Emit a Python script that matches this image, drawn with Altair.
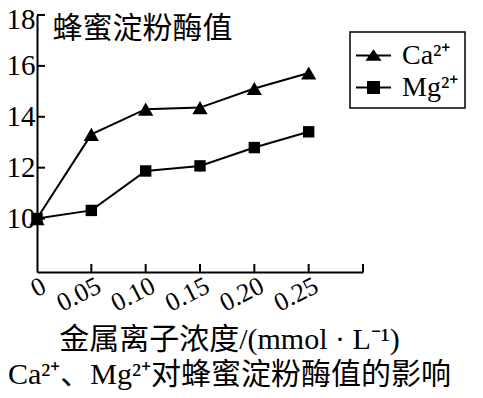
import altair as alt
import pandas as pd

# ---- data ----
conc = [0, 0.05, 0.10, 0.15, 0.20, 0.25]
ca_values = [10.0, 13.31, 14.30, 14.36, 15.11, 15.72]
mg_values = [10.0, 10.32, 11.87, 12.07, 12.79, 13.41]
series_names = ["Ca²⁺", "Mg²⁺"]
y_tick_values = [10, 12, 14, 16, 18]
x_tick_values = [0, 0.05, 0.10, 0.15, 0.20, 0.25]
x_tick_marks = [0.05, 0.10, 0.15, 0.20, 0.25, 0.30]

y_title = "蜂蜜淀粉酶值"
x_title = ["金属离子浓度/(mmol · L⁻¹)", "Ca²⁺、Mg²⁺对蜂蜜淀粉酶值的影响"]

df = pd.DataFrame({
    "conc": conc + conc,
    "value": ca_values + mg_values,
    "series": [series_names[0]] * len(conc) + [series_names[1]] * len(conc),
})
ytick_df = pd.DataFrame({"yt": y_tick_values})
xtick_df = pd.DataFrame({"xt": x_tick_marks})

SERIF = "Liberation Serif"
MIXED = "Liberation Serif, Noto Sans CJK SC"
CJK = "Noto Sans CJK SC"

W, H = 326, 257
xs = alt.Scale(domain=[0, 0.30], nice=False, zero=False)
ys = alt.Scale(domain=[7.9, 18], nice=False, zero=False)

x_axis = alt.Axis(
    values=x_tick_values,
    labelExpr="datum.value === 0 ? '0' : format(datum.value, '.2f')",
    ticks=False, grid=False,
    domainColor="black", domainWidth=2,
    labelFont=SERIF, labelFontSize=26, labelColor="black",
    labelAngle=333, labelAlign="center", labelBaseline="middle",
    labelOffset={"condition": {"test": "datum.value === 0", "value": 1}, "value": -13},
    labelPadding={"condition": {"test": "datum.value === 0", "value": 15}, "value": 22},
    title=x_title, titleFont=MIXED, titleFontSize=30, titleFontWeight="normal",
    titleColor="black", titleAlign="center", titleBaseline="alphabetic",
    titleX=192, titleY=76, titleLineHeight=35, titleAngle=0,
)
y_axis = alt.Axis(
    values=y_tick_values, ticks=False, grid=False,
    domainColor="black", domainWidth=2,
    labelFont=SERIF, labelFontSize=29, labelColor="black", labelPadding=2,
    labelOffset={"condition": {"test": "datum.value === 18", "value": 4}, "value": 0},
    title=y_title, titleFont=CJK, titleFontSize=30, titleFontWeight="normal",
    titleColor="black", titleAngle=0, titleAlign="left", titleBaseline="alphabetic",
    titleX=15, titleY=22,
)

X = lambda f: alt.X(f, scale=xs, axis=x_axis)
Y = lambda f: alt.Y(f, scale=ys, axis=y_axis)

lines = alt.Chart(df).mark_line(color="black", strokeWidth=2).encode(
    x=X("conc:Q"), y=Y("value:Q"), detail="series:N",
)

points = alt.Chart(df).mark_point(filled=True, color="black", opacity=1).encode(
    x=X("conc:Q"), y=Y("value:Q"),
    shape=alt.Shape("series:N", scale=alt.Scale(domain=series_names, range=["triangle-up", "square"]), legend=None),
    size=alt.Size("series:N", scale=alt.Scale(domain=series_names, range=[230, 130]), legend=None),
)

# legend glyphs: a short horizontal bar with the marker in its middle (all filled, clockwise)
legend_paths = [
    "M-1,-0.06H1V0.06H-1ZM0,-0.36L0.46,0.3L-0.46,0.3Z",
    "M-1,-0.06H1V0.06H-1ZM-0.37,-0.37H0.37V0.37H-0.37Z",
]
legend_layer = alt.Chart(df).transform_filter("false").mark_point(
    filled=True, color="black", opacity=1
).encode(
    x=X("conc:Q"), y=Y("value:Q"),
    shape=alt.Shape(
        "series:N",
        scale=alt.Scale(domain=series_names, range=legend_paths),
        legend=alt.Legend(
            orient="none", legendX=313, legendY=17, title=None,
            symbolSize=1225, symbolStrokeWidth=0, symbolFillColor="black", symbolOpacity=1,
            labelFont=SERIF, labelFontSize=28, labelColor="black", labelOffset=11,
            labelExpr="datum.label + '\u00a0\u00a0\u00a0\u00a0'",
            rowPadding=0, padding=6, strokeColor="black", fillColor="white",
        ),
    ),
)

ytick_rules = alt.Chart(ytick_df).mark_rule(color="black", strokeWidth=2).encode(
    y=Y("yt:Q"), x=alt.value(0), x2=alt.value(8),
)
xtick_rules = alt.Chart(xtick_df).mark_rule(color="black", strokeWidth=2).encode(
    x=X("xt:Q"), y=alt.value(H), y2=alt.value(H - 8),
)

chart = alt.layer(lines, ytick_rules, xtick_rules, points, legend_layer).resolve_scale(
    shape="independent", size="independent"
).properties(
    width=W, height=H,
    autosize=alt.AutoSizeParams(type="none"),
    padding={"left": 29, "top": 7, "right": 110, "bottom": 118},
    background="white",
).configure_view(stroke=None).configure_legend(strokeWidth=1.5, cornerRadius=0)

chart.save("out.html", embed_options={"renderer": "svg", "actions": False})
